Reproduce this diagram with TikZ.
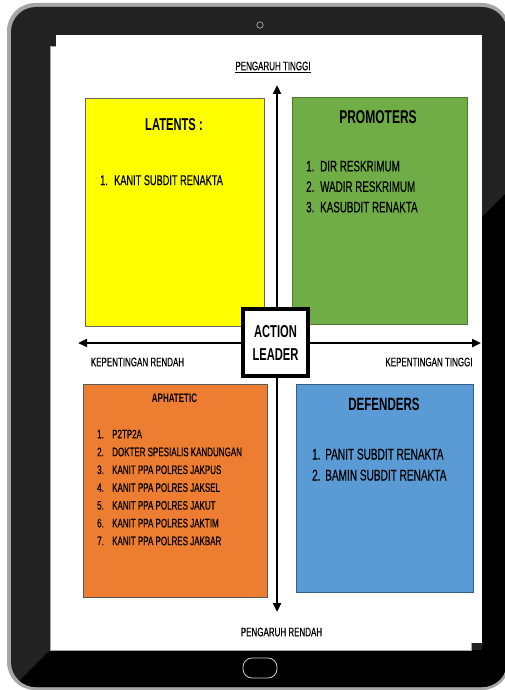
\documentclass[tikz,border=0pt]{standalone}
\usepackage{fontspec}
\setmainfont{Liberation Sans}[FakeStretch=0.65, UprightFeatures={FakeBold=0.4}]
\usetikzlibrary{arrows.meta}

\definecolor{bezelgray}{HTML}{A6A6A6}
\definecolor{bezeldark}{HTML}{222222}
\definecolor{latyellow}{HTML}{FFFF00}
\definecolor{promgreen}{HTML}{70AD47}
\definecolor{apaorange}{HTML}{ED7D31}
\definecolor{defblue}{HTML}{5B9BD5}

\newcommand{\qnum}[2][14pt]{\makebox[#1][l]{#2.}}

\tikzset{
  quad/.style={draw, line width=0.8pt, inner sep=0pt},
  quadttl/.style={font=\bfseries\fontsize{#1}{#1}\selectfont, inner sep=0pt},
  quadlst/.style={font=\fontsize{#1}{#1}\selectfont, align=left, anchor=north west, inner sep=0pt},
  axislbl/.style={font=\fontsize{12.3}{14}\selectfont, inner sep=0pt},
  axisline/.style={line width=2.6pt, {Triangle[length=9pt,width=8pt]}-{Triangle[length=9pt,width=8pt]}}
}

\begin{document}
\begin{tikzpicture}[x=1pt, y=-1pt]
  \useasboundingbox (0,0) rectangle (504,690);

  % Tablet frame
  \fill[bezelgray, rounded corners=28pt] (7,3) rectangle (510,690);
  \fill[bezeldark, rounded corners=25pt] (11,7) rectangle (507,687);
  \begin{scope}
    \clip[rounded corners=25pt] (11,7) rectangle (507,687);
    \fill[black] (50,650) -- (0,700) -- (520,700) -- (520,179) -- (482,217) -- (482,650) -- cycle;
  \end{scope}
  \draw[gray!80, line width=0.8pt] (260,25) circle (3.2pt);
  \draw[gray!40, line width=0.8pt, rounded corners=9pt] (243,658) rectangle (277,678);

  % Screen
  \filldraw[white, draw=gray!70, line width=0.6pt] (50,46) rectangle (471,650);
  \fill[white] (56,35) rectangle (482,643);

  % Quadrants
  \node[quad, fill=latyellow, draw=gray!80!black, minimum width=179pt, minimum height=228pt] (latents) at (174.5,212) {};
  \node[quad, fill=promgreen, draw=promgreen!70!black, minimum width=175pt, minimum height=227pt] (promoters) at (379.5,210.5) {};
  \node[quad, fill=apaorange, draw=gray!70!black, minimum width=184pt, minimum height=213pt] (aphatetic) at (175,490.5) {};
  \node[quad, fill=defblue, draw=defblue!60!black, minimum width=177pt, minimum height=208pt] (defenders) at (384.5,488) {};

  \node[quadttl=17.2] (latentsttl) at (174,125) {LATENTS :};
  \node[quadttl=18.5] (promotersttl) at (378,117) {PROMOTERS};
  \node[quadttl=12.3] (aphateticttl) at (174.5,398) {APHATETIC};
  \node[quadttl=17.8] (defendersttl) at (384,404) {DEFENDERS};

  \node[quadlst=14.15] (latentslst) at (100,175) {\qnum{1}KANIT SUBDIT RENAKTA};
  \node[quadlst=15.1, font=\fontsize{15.1}{20.5}\selectfont] (promoterslst) at (306,160.6)
    {\qnum{1}DIR RESKRIMUM\\ \qnum{2}WADIR RESKRIMUM\\ \qnum{3}KASUBDIT RENAKTA};
  \node[quadlst=12.3, font=\fontsize{12.3}{17.8}\selectfont] (aphateticlst) at (97,429.6)
    {\qnum[15pt]{1}P2TP2A\\ \qnum[15pt]{2}DOKTER SPESIALIS KANDUNGAN\\ \qnum[15pt]{3}KANIT PPA POLRES JAKPUS\\
     \qnum[15pt]{4}KANIT PPA POLRES JAKSEL\\ \qnum[15pt]{5}KANIT PPA POLRES JAKUT\\ \qnum[15pt]{6}KANIT PPA POLRES JAKTIM\\
     \qnum[15pt]{7}KANIT PPA POLRES JAKBAR};
  \node[quadlst=15.5, font=\fontsize{15.5}{21}\selectfont] (defenderslst) at (312,448.5)
    {\qnum[13pt]{1}PANIT SUBDIT RENAKTA\\ \qnum[13pt]{2}BAMIN SUBDIT RENAKTA};

  % Axes
  \coordinate (top) at (277,85);
  \coordinate (bottom) at (277,612);
  \coordinate (left) at (78,343);
  \coordinate (right) at (481,343);
  \draw[axisline] (bottom) -- (top);
  \draw[axisline] (left) -- (right);

  \node[axislbl] (highinf) at (273,67) {\underline{PENGARUH TINGGI}};
  \node[axislbl] (lowinf) at (281.5,632) {PENGARUH RENDAH};
  \node[axislbl] (lowint) at (137.5,362) {KEPENTINGAN RENDAH};
  \node[axislbl] (highint) at (429,362) {KEPENTINGAN TINGGI};

  % Centre box
  \node[draw, line width=4pt, fill=white, minimum width=65pt, minimum height=67pt, align=center,
        font=\bfseries\fontsize{17.2}{23}\selectfont, inner sep=0pt] (leader) at (275.5,342.5) {ACTION\\LEADER};
\end{tikzpicture}
\end{document}
